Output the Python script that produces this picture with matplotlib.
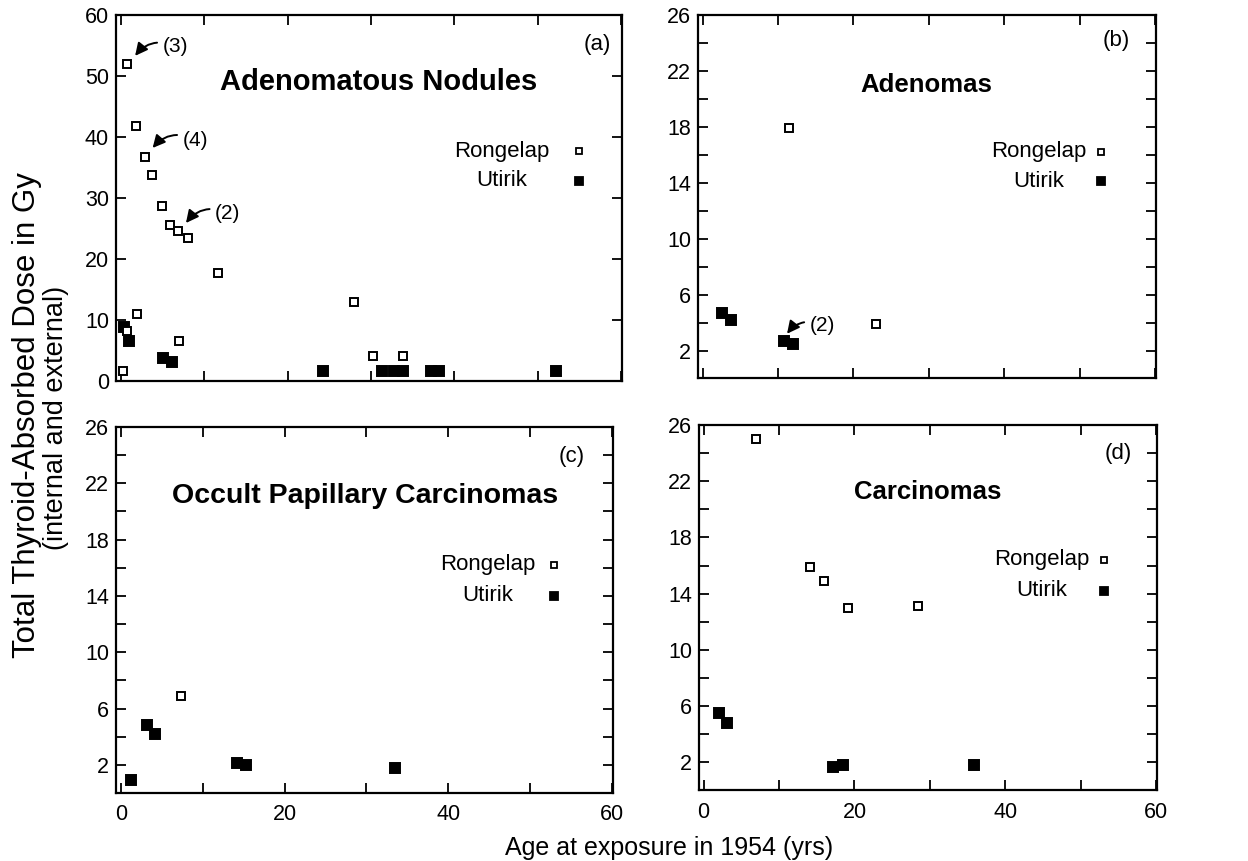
import matplotlib
matplotlib.use("Agg")
import matplotlib.pyplot as plt
from matplotlib.ticker import FixedLocator, NullFormatter

plt.rcParams['font.family'] = ['Liberation Sans', 'DejaVu Sans']

# ---------------- data ----------------
# (a) Adenomatous Nodules
a_rong_x = [0.7, 1.8, 2.9, 3.7, 4.9, 5.9, 6.9, 8.0, 11.7, 1.9, 0.7, 7.0, 28.0, 30.2, 33.9, 0.2]
a_rong_y = [52.0, 41.8, 36.7, 33.8, 28.7, 25.6, 24.6, 23.5, 17.7, 11.0, 8.2, 6.6, 12.9, 4.1, 4.1, 1.7]
a_util_x = [0.4, 1.0, 5.0, 6.1, 24.2, 31.3, 32.8, 33.9, 37.2, 38.1, 52.2]
a_util_y = [8.9, 6.6, 3.7, 3.1, 1.7, 1.7, 1.7, 1.7, 1.7, 1.7, 1.7]
# (b) Adenomas
b_rong_x = [11.5, 23.0]
b_rong_y = [17.9, 3.9]
b_util_x = [2.6, 3.8, 10.8, 12.0]
b_util_y = [4.7, 4.2, 2.7, 2.5]
# (c) Occult Papillary Carcinomas
c_rong_x = [7.3]
c_rong_y = [6.9]
c_util_x = [1.2, 3.2, 4.2, 14.2, 15.3, 33.5]
c_util_y = [0.9, 4.8, 4.2, 2.1, 2.0, 1.8]
# (d) Carcinomas
d_rong_x = [6.9, 14.1, 16.0, 19.2, 28.4]
d_rong_y = [25.0, 15.9, 14.9, 13.0, 13.1]
d_util_x = [2.0, 3.1, 17.2, 18.5, 35.9]
d_util_y = [5.5, 4.8, 1.7, 1.8, 1.8]

titles = ["Adenomatous Nodules", "Adenomas", "Occult Papillary Carcinomas", "Carcinomas"]
panel_labels = ["(a)", "(b)", "(c)", "(d)"]
series_names = ["Rongelap", "Utirik"]
x_major = [0, 20, 40, 60]
x_minor = [10, 30, 50]
ya_major = [0, 10, 20, 30, 40, 50, 60]
yb_major = [2, 6, 10, 14, 18, 22, 26]
yb_minor = [4, 8, 12, 16, 20, 24]
ylabel_lines = ["Total Thyroid-Absorbed Dose in Gy", "(internal and external)"]
xlabel = "Age at exposure in 1954 (yrs)"

# annotations: (axis index, label, point xy, text xy)
notes = [
    (0, "(3)", (1.7, 53.3), (5.0, 54.8)),
    (0, "(4)", (3.8, 38.2), (7.4, 39.5)),
    (0, "(2)", (7.8, 25.9), (11.3, 27.5)),
    (1, "(2)", (11.2, 3.2), (14.2, 3.8)),
]

# ---------------- figure ----------------
fig = plt.figure(figsize=(12.48, 8.61), dpi=100)
positions = [
    [0.0929, 0.5575, 0.4054, 0.4251],
    [0.5593, 0.5604, 0.3670, 0.4222],
    [0.0929, 0.0790, 0.3982, 0.4251],
    [0.5601, 0.0819, 0.3670, 0.4245],
]
data = [
    (a_rong_x, a_rong_y, a_util_x, a_util_y),
    (b_rong_x, b_rong_y, b_util_x, b_util_y),
    (c_rong_x, c_rong_y, c_util_x, c_util_y),
    (d_rong_x, d_rong_y, d_util_x, d_util_y),
]
title_pos = [(30.9, 49.0), (29.7, 21.0), (29.8, 21.1), (29.7, 21.2)]
title_size = [21, 18.5, 20.5, 18.5]
label_pos = [(0.978, 0.918), (0.943, 0.931), (0.944, 0.918), (0.945, 0.923)]
# legend: text center x, marker x, y rongelap, y utirik (in data units)
leg = [
    (45.7, 55.0, 37.7, 32.8),
    (44.6, 52.8, 16.2, 14.1),
    (44.8, 52.9, 16.2, 14.0),
    (44.8, 53.1, 16.4, 14.2),
]

ms = 5.6
mew = 1.4
for i, pos in enumerate(positions):
    ax = fig.add_axes(pos)
    rx, ry, ux, uy = data[i]
    ax.plot(ux, uy, linestyle='none', marker='s', ms=ms + 1.0, mfc='black', mec='black', mew=mew, zorder=3)
    ax.plot(rx, ry, linestyle='none', marker='s', ms=ms, mfc='white', mec='black', mew=mew, zorder=4)

    ax.set_xlim(-0.6, 60.1)
    ax.xaxis.set_major_locator(FixedLocator(x_major))
    ax.xaxis.set_minor_locator(FixedLocator(x_minor))
    if i == 0:
        ax.set_ylim(0, 60)
        ax.yaxis.set_major_locator(FixedLocator(ya_major))
    else:
        ax.set_ylim(0, 26)
        ax.yaxis.set_major_locator(FixedLocator(yb_major))
        ax.yaxis.set_minor_locator(FixedLocator(yb_minor))
        ax.yaxis.set_minor_formatter(NullFormatter())
    ax.xaxis.set_minor_formatter(NullFormatter())

    ax.tick_params(which='both', direction='in', length=7, width=1.3,
                   top=True, right=True, labelsize=15.5, color='black')
    ax.tick_params(axis='y', which='both', pad=5)
    ax.tick_params(axis='x', which='both', pad=8)
    if i < 2:
        ax.tick_params(axis='x', labelbottom=False)
    for sp in ax.spines.values():
        sp.set_linewidth(1.6)

    tx, ty = title_pos[i]
    ax.text(tx, ty, titles[i], ha='center', va='center', fontsize=title_size[i], fontweight='bold')
    lx, ly = label_pos[i]
    ax.text(lx, ly, panel_labels[i], transform=ax.transAxes, ha='right', va='center', fontsize=16)

    tcx, mx, yr, yu = leg[i]
    ax.text(tcx, yr, series_names[0], ha='center', va='center', fontsize=16)
    ax.text(tcx, yu, series_names[1], ha='center', va='center', fontsize=16)
    ax.plot([mx], [yr], linestyle='none', marker='s', ms=4.3, mfc='white', mec='black', mew=1.3)
    ax.plot([mx], [yu], linestyle='none', marker='s', ms=5.3, mfc='black', mec='black', mew=1.3)

    for (k, txt, xy, xyt) in notes:
        if k == i:
            ax.annotate(txt, xy=xy, xytext=xyt, ha='left', va='center', fontsize=15,
                        arrowprops=dict(arrowstyle='-|>,head_length=0.5,head_width=0.25',
                                        connectionstyle='arc3,rad=0.4', color='black', lw=1.4,
                                        shrinkA=2, shrinkB=0))

fig.text(0.0216, 0.518, ylabel_lines[0], rotation=90, ha='center', va='center', fontsize=22.5)
fig.text(0.0445, 0.515, ylabel_lines[1], rotation=90, ha='center', va='center', fontsize=19.5)
fig.text(0.4046, 0.015, xlabel, ha='left', va='center', fontsize=18)

fig.savefig("out.png", dpi=100)
